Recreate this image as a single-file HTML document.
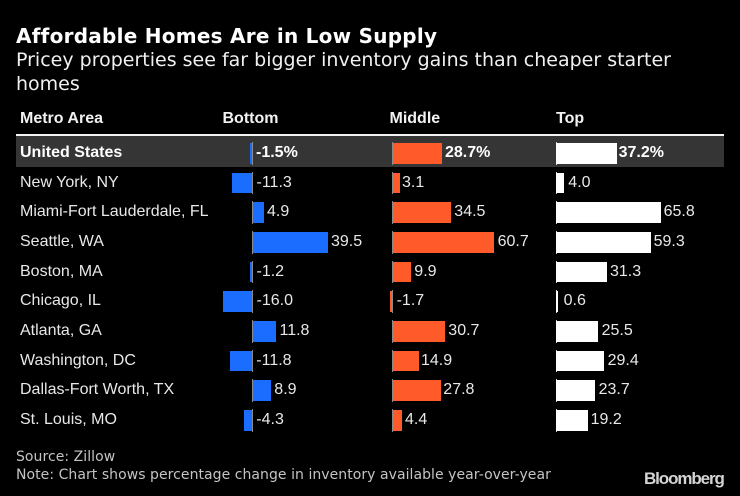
<!DOCTYPE html>
<html><head><meta charset="utf-8"><style>
*{margin:0;padding:0;box-sizing:border-box}
html,body{width:740px;height:496px;background:#000;overflow:hidden}
body{position:relative;font-family:"Liberation Sans",Arial,sans-serif;color:#e8e8e8}
.a{position:absolute;white-space:nowrap}
.t{left:16px;top:24px;font:bold 20px/24px "DejaVu Sans",sans-serif;color:#fff;letter-spacing:0.25px}
.s{left:16px;top:48px;font:19px/24px "DejaVu Sans",sans-serif;color:#f0f0f0}
.h{top:110px;font:bold 16px/18px "Liberation Sans",sans-serif;color:#f2f2f2}
.src{left:16px;top:449px;font:14px/17.5px "DejaVu Sans",sans-serif;color:#c4c4c4;letter-spacing:0.05px}
.bb{left:644px;top:469px;font:bold 17px/20px "Liberation Sans",sans-serif;color:#d4d4d4;letter-spacing:-1.1px}
.r{height:20.5px;font-size:16px;line-height:20.5px}
.b{position:absolute;height:20.5px}
.bl{background:#1b6dff}.or{background:#ff5b2a}.wh{background:#fff}
.ax{position:absolute;width:1px;height:22.5px;background:#8a8a8a}
.axw{background:#cfcfcf}
.bold{font-weight:bold;color:#fff}
</style></head><body>
<div class="a t">Affordable Homes Are in Low Supply</div>
<div class="a s">Pricey properties see far bigger inventory gains than cheaper starter<br>homes</div>
<div class="a h" style="left:20px">Metro Area</div>
<div class="a h" style="left:222.5px">Bottom</div>
<div class="a h" style="left:389.5px">Middle</div>
<div class="a h" style="left:556px">Top</div>
<div class="a" style="left:16px;top:134px;width:708px;height:2px;background:#f4f4f4"></div>
<div class="a" style="left:16px;top:136px;width:708px;height:30.5px;background:#353535"></div>

<!-- row labels -->
<div class="a r bold" style="left:20px;top:143px">United States</div>
<div class="a r" style="left:20px;top:172.7px">New York, NY</div>
<div class="a r" style="left:20px;top:202.3px">Miami-Fort Lauderdale, FL</div>
<div class="a r" style="left:20px;top:232px">Seattle, WA</div>
<div class="a r" style="left:20px;top:261.7px">Boston, MA</div>
<div class="a r" style="left:20px;top:291.3px">Chicago, IL</div>
<div class="a r" style="left:20px;top:321px">Atlanta, GA</div>
<div class="a r" style="left:20px;top:350.7px">Washington, DC</div>
<div class="a r" style="left:20px;top:380.4px">Dallas-Fort Worth, TX</div>
<div class="a r" style="left:20px;top:410px">St. Louis, MO</div>

<!-- axes -->
<div class="ax" style="left:252px;top:142px"></div>
<div class="ax" style="left:252px;top:171.7px"></div>
<div class="ax" style="left:252px;top:201.3px"></div>
<div class="ax" style="left:252px;top:231px"></div>
<div class="ax" style="left:252px;top:260.7px"></div>
<div class="ax" style="left:252px;top:290.3px"></div>
<div class="ax" style="left:252px;top:320px"></div>
<div class="ax" style="left:252px;top:349.7px"></div>
<div class="ax" style="left:252px;top:379.4px"></div>
<div class="ax" style="left:252px;top:409px"></div>

<div class="ax" style="left:392px;top:142px"></div>
<div class="ax" style="left:392px;top:171.7px"></div>
<div class="ax" style="left:392px;top:201.3px"></div>
<div class="ax" style="left:392px;top:231px"></div>
<div class="ax" style="left:392px;top:260.7px"></div>
<div class="ax" style="left:392px;top:290.3px"></div>
<div class="ax" style="left:392px;top:320px"></div>
<div class="ax" style="left:392px;top:349.7px"></div>
<div class="ax" style="left:392px;top:379.4px"></div>
<div class="ax" style="left:392px;top:409px"></div>

<div class="ax axw" style="left:556px;top:142px"></div>
<div class="ax axw" style="left:556px;top:171.7px"></div>
<div class="ax axw" style="left:556px;top:201.3px"></div>
<div class="ax axw" style="left:556px;top:231px"></div>
<div class="ax axw" style="left:556px;top:260.7px"></div>
<div class="ax axw" style="left:556px;top:290.3px"></div>
<div class="ax axw" style="left:556px;top:320px"></div>
<div class="ax axw" style="left:556px;top:349.7px"></div>
<div class="ax axw" style="left:556px;top:379.4px"></div>
<div class="ax axw" style="left:556px;top:409px"></div>

<!-- bottom bars -->
<div class="b bl" style="left:250px;width:2px;top:143px"></div>
<div class="b bl" style="left:231.7px;width:20.3px;top:172.7px"></div>
<div class="b bl" style="left:253px;width:10.7px;top:202.3px"></div>
<div class="b bl" style="left:253px;width:74.7px;top:232px"></div>
<div class="b bl" style="left:250px;width:2px;top:261.7px"></div>
<div class="b bl" style="left:222.7px;width:29.3px;top:291.3px"></div>
<div class="b bl" style="left:253px;width:23.3px;top:321px"></div>
<div class="b bl" style="left:230.3px;width:21.7px;top:350.7px"></div>
<div class="b bl" style="left:253px;width:17.7px;top:380.4px"></div>
<div class="b bl" style="left:244.3px;width:7.7px;top:410px"></div>

<!-- middle bars -->
<div class="b or" style="left:393px;width:48.7px;top:143px"></div>
<div class="b or" style="left:393px;width:7px;top:172.7px"></div>
<div class="b or" style="left:393px;width:58px;top:202.3px"></div>
<div class="b or" style="left:393px;width:101.3px;top:232px"></div>
<div class="b or" style="left:393px;width:18px;top:261.7px"></div>
<div class="b or" style="left:389.5px;width:2.5px;top:291.3px"></div>
<div class="b or" style="left:393px;width:52.3px;top:321px"></div>
<div class="b or" style="left:393px;width:26px;top:350.7px"></div>
<div class="b or" style="left:393px;width:48px;top:380.4px"></div>
<div class="b or" style="left:393px;width:8.7px;top:410px"></div>

<!-- top bars -->
<div class="b wh" style="left:556px;width:60.7px;top:143px"></div>
<div class="b wh" style="left:556px;width:8px;top:172.7px"></div>
<div class="b wh" style="left:556px;width:105px;top:202.3px"></div>
<div class="b wh" style="left:556px;width:94.7px;top:232px"></div>
<div class="b wh" style="left:556px;width:51.3px;top:261.7px"></div>
<div class="b wh" style="left:556px;width:1.5px;top:291.3px"></div>
<div class="b wh" style="left:556px;width:42.3px;top:321px"></div>
<div class="b wh" style="left:556px;width:48px;top:350.7px"></div>
<div class="b wh" style="left:556px;width:39px;top:380.4px"></div>
<div class="b wh" style="left:556px;width:31.7px;top:410px"></div>

<!-- bottom labels -->
<div class="a r bold" style="left:256px;top:143px">-1.5%</div>
<div class="a r" style="left:256.5px;top:172.7px">-11.3</div>
<div class="a r" style="left:267px;top:202.3px">4.9</div>
<div class="a r" style="left:331px;top:232px">39.5</div>
<div class="a r" style="left:256.5px;top:261.7px">-1.2</div>
<div class="a r" style="left:256.5px;top:291.3px">-16.0</div>
<div class="a r" style="left:279.5px;top:321px">11.8</div>
<div class="a r" style="left:256.3px;top:350.7px">-11.8</div>
<div class="a r" style="left:274.3px;top:380.4px">8.9</div>
<div class="a r" style="left:256.3px;top:410px">-4.3</div>

<!-- middle labels -->
<div class="a r bold" style="left:445px;top:143px">28.7%</div>
<div class="a r" style="left:402px;top:172.7px">3.1</div>
<div class="a r" style="left:454.3px;top:202.3px">34.5</div>
<div class="a r" style="left:497.6px;top:232px">60.7</div>
<div class="a r" style="left:414.3px;top:261.7px">9.9</div>
<div class="a r" style="left:396.6px;top:291.3px">-1.7</div>
<div class="a r" style="left:448.3px;top:321px">30.7</div>
<div class="a r" style="left:421px;top:350.7px">14.9</div>
<div class="a r" style="left:443.3px;top:380.4px">27.8</div>
<div class="a r" style="left:405px;top:410px">4.4</div>

<!-- top labels -->
<div class="a r bold" style="left:618.6px;top:143px">37.2%</div>
<div class="a r" style="left:568.3px;top:172.7px">4.0</div>
<div class="a r" style="left:663.6px;top:202.3px">65.8</div>
<div class="a r" style="left:653.6px;top:232px">59.3</div>
<div class="a r" style="left:610px;top:261.7px">31.3</div>
<div class="a r" style="left:563.6px;top:291.3px">0.6</div>
<div class="a r" style="left:601.6px;top:321px">25.5</div>
<div class="a r" style="left:607.6px;top:350.7px">29.4</div>
<div class="a r" style="left:598.6px;top:380.4px">23.7</div>
<div class="a r" style="left:590.6px;top:410px">19.2</div>

<div class="a src">Source: Zillow<br>Note: Chart shows percentage change in inventory available year-over-year</div>
<div class="a bb">Bloomberg</div>
</body></html>
